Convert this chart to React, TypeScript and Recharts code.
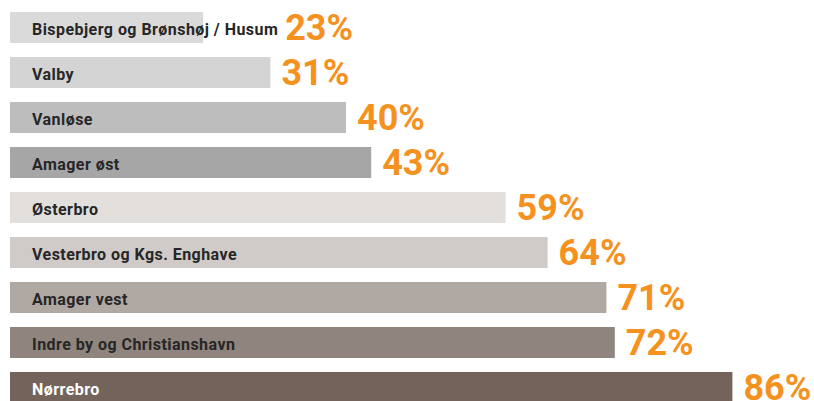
import React from 'react';
import { BarChart, Bar, XAxis, YAxis } from 'recharts';

const districts = [
  'Bispebjerg og Brønshøj / Husum',
  'Valby',
  'Vanløse',
  'Amager øst',
  'Østerbro',
  'Vesterbro og Kgs. Enghave',
  'Amager vest',
  'Indre by og Christianshavn',
  'Nørrebro',
];
const shares = [23, 31, 40, 43, 59, 64, 71, 72, 86];
const barColors = ['#dadada', '#d4d4d4', '#bdbdbd', '#a6a6a6', '#e2dfdc', '#d0cbc8', '#b0a8a3', '#8f847e', '#74635b'];
const nameColors = ['#262626', '#262626', '#262626', '#262626', '#262626', '#262626', '#262626', '#262626', '#ffffff'];

const data = districts.map((name, i) => ({ name, value: shares[i], idx: i }));

const NAME_SIZE = 16;
const NAME_SPACING = 0.45;
let ctx: CanvasRenderingContext2D | null = null;
function measure(text: string): number {
  if (!ctx) {
    const c = document.createElement('canvas');
    ctx = c.getContext('2d');
  }
  if (!ctx) return text.length * 8.3;
  ctx.font = `bold ${NAME_SIZE}px Roboto`;
  return ctx.measureText(text).width + NAME_SPACING * text.length;
}

const BarShape = (props: any) => {
  const { x, y, width, height, payload } = props;
  const i = payload.idx;
  const cy = y + height / 2;
  const nameX = x + 22;
  const nameW = measure(payload.name);
  const pctX = Math.max(x + width + 11, nameX + nameW + 7);
  return (
    <g>
      <rect x={x} y={y} width={width} height={height} fill={barColors[i]} />
      <text
        x={nameX}
        y={cy + 7.5}
        fontFamily="Roboto"
        fontWeight="bold"
        fontSize={NAME_SIZE}
        letterSpacing={NAME_SPACING}
        fill={nameColors[i]}
      >
        {payload.name}
      </text>
      <text x={pctX} y={cy + 12} fontFamily="Roboto" fontWeight="bold" fontSize={36} fill="#f5921f">
        {payload.value}%
      </text>
    </g>
  );
};

export default function App() {
  return (
    <div style={{ position: 'absolute', left: 0, top: 0 }}>
      <BarChart
        width={814}
        height={410}
        data={data}
        layout="vertical"
        margin={{ top: 5, right: 48, left: 10, bottom: 0 }}
      >
        <XAxis type="number" domain={[0, 90]} hide />
        <YAxis type="category" dataKey="name" hide />
        <Bar dataKey="value" barSize={31} isAnimationActive={false} shape={<BarShape />} />
      </BarChart>
    </div>
  );
}
